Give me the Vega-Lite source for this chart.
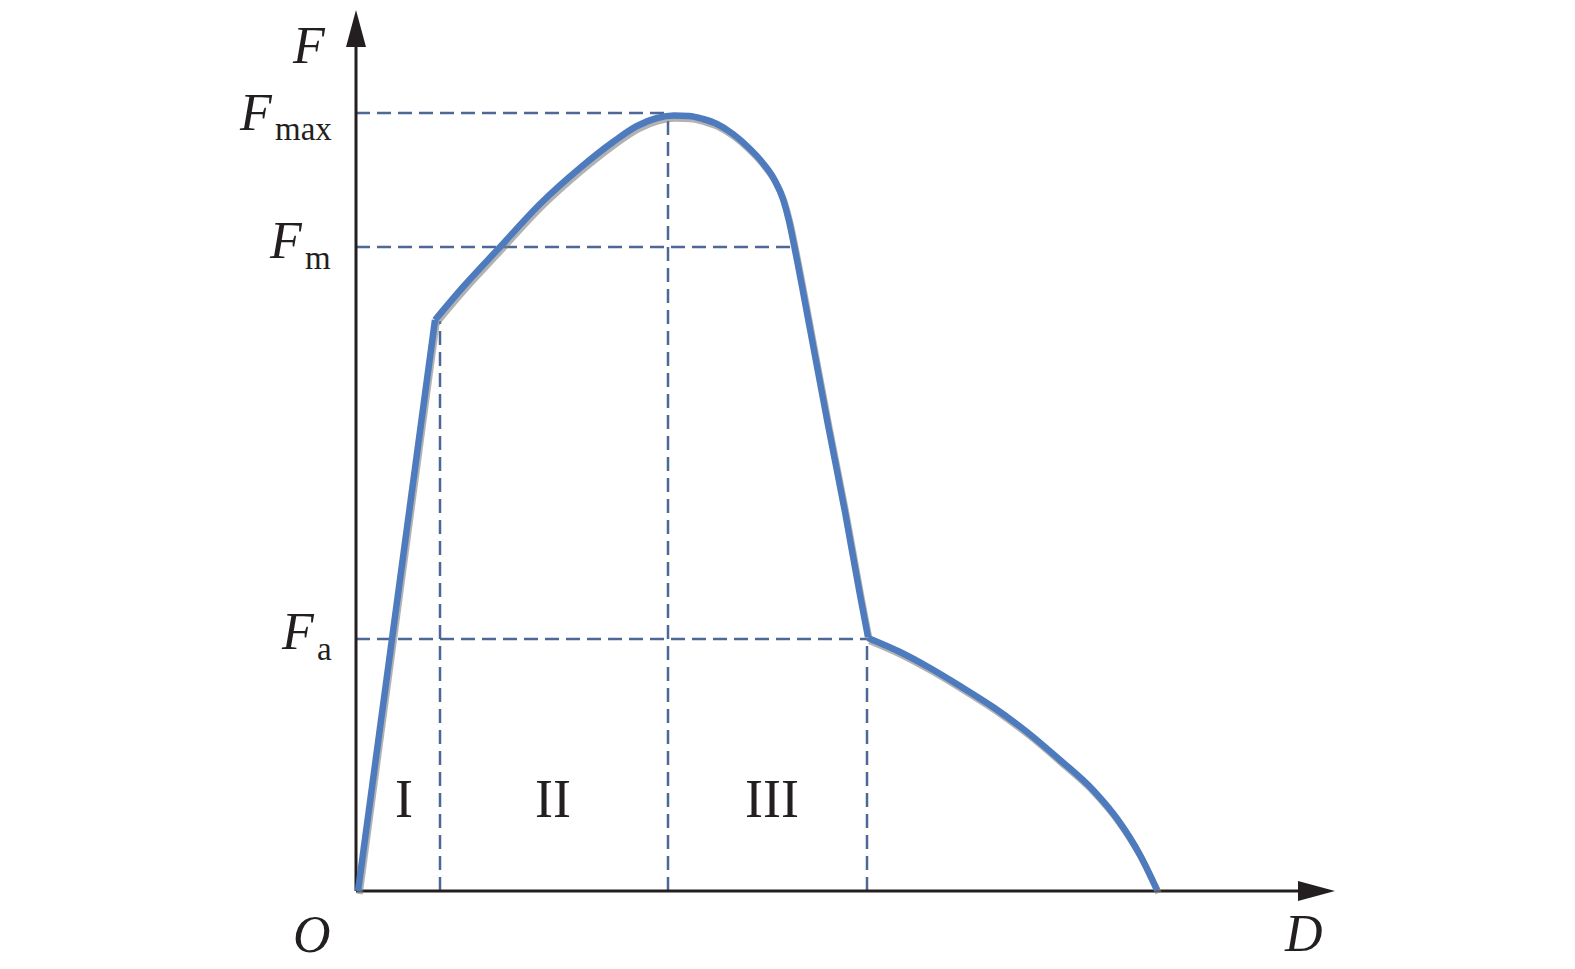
{
  "$schema": "https://vega.github.io/schema/vega-lite/v6.json",
  "width": 1000,
  "height": 891,
  "autosize": {"type": "none"},
  "padding": {"left": 356, "top": 0, "right": 219, "bottom": 78},
  "background": "white",
  "config": {"view": {"stroke": null}},
  "datasets": {
    "curve": [
      {"seg": 1, "d": 2, "f": 0},
      {"seg": 1, "d": 79, "f": 571},
      {"seg": 2, "d": 79, "f": 571},
      {"seg": 2, "d": 107, "f": 604},
      {"seg": 2, "d": 144, "f": 644},
      {"seg": 2, "d": 184, "f": 687},
      {"seg": 2, "d": 224, "f": 723},
      {"seg": 2, "d": 257, "f": 749},
      {"seg": 2, "d": 281, "f": 765},
      {"seg": 2, "d": 301, "f": 773},
      {"seg": 2, "d": 318, "f": 775.5},
      {"seg": 2, "d": 333, "f": 775},
      {"seg": 2, "d": 347, "f": 772},
      {"seg": 2, "d": 361, "f": 767},
      {"seg": 2, "d": 377, "f": 757},
      {"seg": 2, "d": 392, "f": 744},
      {"seg": 2, "d": 406, "f": 729},
      {"seg": 2, "d": 418, "f": 712},
      {"seg": 2, "d": 427, "f": 692},
      {"seg": 2, "d": 433, "f": 670},
      {"seg": 2, "d": 439, "f": 641},
      {"seg": 2, "d": 454, "f": 562},
      {"seg": 2, "d": 472, "f": 466},
      {"seg": 2, "d": 489, "f": 379},
      {"seg": 2, "d": 504, "f": 296},
      {"seg": 2, "d": 512, "f": 254},
      {"seg": 3, "d": 512, "f": 253},
      {"seg": 3, "d": 544, "f": 239},
      {"seg": 3, "d": 574, "f": 223},
      {"seg": 3, "d": 604, "f": 205},
      {"seg": 3, "d": 637, "f": 184},
      {"seg": 3, "d": 671, "f": 159},
      {"seg": 3, "d": 704, "f": 131},
      {"seg": 3, "d": 737, "f": 101},
      {"seg": 3, "d": 762, "f": 71},
      {"seg": 3, "d": 784, "f": 36},
      {"seg": 3, "d": 801, "f": 1}
    ],
    "guides": [
      {"x": 0, "y": 778, "x2": 312, "y2": 778},
      {"x": 0, "y": 644, "x2": 440, "y2": 644},
      {"x": 0, "y": 252, "x2": 512, "y2": 252},
      {"x": 84, "y": 0, "x2": 84, "y2": 570},
      {"x": 312, "y": 0, "x2": 312, "y2": 778},
      {"x": 511, "y": 0, "x2": 511, "y2": 252}
    ],
    "axes": [
      {"x": 0, "y": 0, "x2": 0, "y2": 850},
      {"x": 0, "y": 0, "x2": 950, "y2": 0}
    ],
    "italic": [
      {"label": "F", "x": -63, "y": 828},
      {"label": "F", "x": -116, "y": 761},
      {"label": "F", "x": -86, "y": 633},
      {"label": "F", "x": -74, "y": 242},
      {"label": "O", "x": -63, "y": -61},
      {"label": "D", "x": 929, "y": -60}
    ],
    "subs": [
      {"label": "max", "x": -81, "y": 751},
      {"label": "m", "x": -51, "y": 622},
      {"label": "a", "x": -39, "y": 231}
    ],
    "zones": [
      {"label": "I", "x": 48, "y": 74},
      {"label": "II", "x": 197, "y": 74},
      {"label": "III", "x": 416, "y": 74}
    ]
  },
  "layer": [
    {
      "data": {"name": "guides"},
      "mark": {"type": "rule", "color": "#4d6897", "strokeWidth": 2.5, "strokeDash": [14, 7]},
      "encoding": {
        "x": {"field": "x", "type": "quantitative", "scale": {"domain": [0, 1000], "nice": false, "zero": false}, "axis": null},
        "y": {"field": "y", "type": "quantitative", "scale": {"domain": [0, 891], "nice": false, "zero": false}, "axis": null},
        "x2": {"field": "x2"},
        "y2": {"field": "y2"}
      }
    },
    {
      "data": {"name": "axes"},
      "mark": {"type": "rule", "color": "#231f20", "strokeWidth": 3},
      "encoding": {
        "x": {"field": "x", "type": "quantitative"},
        "y": {"field": "y", "type": "quantitative"},
        "x2": {"field": "x2"},
        "y2": {"field": "y2"}
      }
    },
    {
      "data": {"values": [{"x": 0, "y": 862.5}]},
      "mark": {"type": "point", "filled": true, "opacity": 1, "color": "#231f20", "size": 1369, "shape": "M0,-1L0.54,1L-0.54,1Z"},
      "encoding": {
        "x": {"field": "x", "type": "quantitative"},
        "y": {"field": "y", "type": "quantitative"}
      }
    },
    {
      "data": {"values": [{"x": 960.5, "y": 0}]},
      "mark": {"type": "point", "filled": true, "opacity": 1, "color": "#231f20", "size": 1369, "shape": "M1,0L-1,-0.54L-1,0.54Z"},
      "encoding": {
        "x": {"field": "x", "type": "quantitative"},
        "y": {"field": "y", "type": "quantitative"}
      }
    },
    {
      "data": {"name": "curve"},
      "mark": {"type": "line", "color": "#7f7f7f", "strokeWidth": 6.5, "opacity": 0.6, "xOffset": 1.5, "yOffset": 3, "strokeJoin": "round", "interpolate": "monotone"},
      "encoding": {
        "x": {"field": "d", "type": "quantitative"},
        "y": {"field": "f", "type": "quantitative"},
        "detail": {"field": "seg", "type": "nominal"},
        "order": {"field": "d", "type": "quantitative"}
      }
    },
    {
      "data": {"name": "curve"},
      "mark": {"type": "line", "color": "#4d7bbd", "strokeWidth": 6.5, "strokeJoin": "round", "interpolate": "monotone"},
      "encoding": {
        "x": {"field": "d", "type": "quantitative"},
        "y": {"field": "f", "type": "quantitative"},
        "detail": {"field": "seg", "type": "nominal"},
        "order": {"field": "d", "type": "quantitative"}
      }
    },
    {
      "data": {"name": "italic"},
      "mark": {"type": "text", "font": "Liberation Serif", "fontStyle": "italic", "fontSize": 52, "align": "left", "baseline": "alphabetic", "color": "#231f20"},
      "encoding": {
        "x": {"field": "x", "type": "quantitative"},
        "y": {"field": "y", "type": "quantitative"},
        "text": {"field": "label"}
      }
    },
    {
      "data": {"name": "subs"},
      "mark": {"type": "text", "font": "Liberation Serif", "fontSize": 33, "align": "left", "baseline": "alphabetic", "color": "#231f20"},
      "encoding": {
        "x": {"field": "x", "type": "quantitative"},
        "y": {"field": "y", "type": "quantitative"},
        "text": {"field": "label"}
      }
    },
    {
      "data": {"name": "zones"},
      "mark": {"type": "text", "font": "Liberation Serif", "fontSize": 54, "align": "center", "baseline": "alphabetic", "color": "#231f20"},
      "encoding": {
        "x": {"field": "x", "type": "quantitative"},
        "y": {"field": "y", "type": "quantitative"},
        "text": {"field": "label"}
      }
    }
  ]
}
